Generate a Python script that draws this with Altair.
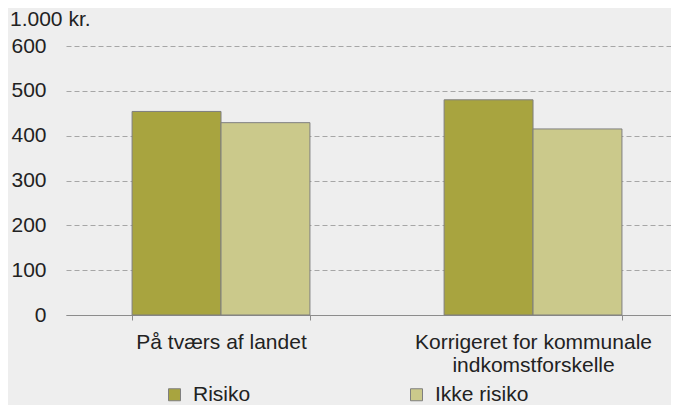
import altair as alt
import pandas as pd

categories = ["På tværs af landet", "Korrigeret for kommunale indkomstforskelle"]
series = ["Risiko", "Ikke risiko"]
risiko = [454, 480]
ikke_risiko = [429, 415]
y_ticks = [0, 100, 200, 300, 400, 500, 600]

rows = []
for i, c in enumerate(categories):
    rows.append({"kategori": c, "serie": series[0], "værdi": risiko[i]})
    rows.append({"kategori": c, "serie": series[1], "værdi": ikke_risiko[i]})
df = pd.DataFrame(rows)

FONT = "Liberation Sans"

chart = alt.Chart(df).mark_bar(stroke="#7f7f7f", strokeWidth=1).encode(
    x=alt.X("kategori:N", sort=categories, title=None,
            scale=alt.Scale(paddingInner=0.43, paddingOuter=0.1845, align=0.574),
            axis=alt.Axis(labelAngle=0, labelFontSize=21, labelFont=FONT, labelColor="#222222",
                          labelLimit=1000, labelPadding=11, labelLineHeight=23,
                          labelExpr="datum.label == 'Korrigeret for kommunale indkomstforskelle' ? ['Korrigeret for kommunale', 'indkomstforskelle'] : datum.label",
                          tickBand="extent", tickSize=5, tickColor="#8c8c8c",
                          domainColor="#8c8c8c", grid=False)),
    xOffset=alt.XOffset("serie:N", sort=series),
    y=alt.Y("værdi:Q", title=None,
            scale=alt.Scale(domain=[0, 600], nice=False),
            axis=alt.Axis(values=y_ticks, domain=False, ticks=False, labelFontSize=21,
                          labelFont=FONT, labelColor="#222222", labelPadding=20,
                          gridDash=[5, 3], gridColor="#a6a6a6", gridWidth=1)),
    color=alt.Color("serie:N", sort=series,
                    scale=alt.Scale(domain=series, range=["#a8a43f", "#cbc98b"]),
                    legend=alt.Legend(title=None, orient="none", legendX=98, legendY=338,
                                      direction="horizontal", columns=2, columnPadding=155,
                                      symbolType="square", symbolSize=144,
                                      symbolStrokeColor="#7f7f7f", symbolStrokeWidth=1,
                                      labelFontSize=21, labelFont=FONT, labelColor="#222222",
                                      labelOffset=8)),
)

title = alt.Chart(pd.DataFrame({"t": ["1.000 kr."]})).mark_text(
    align="left", baseline="middle", fontSize=21, font=FONT, color="#222222"
).encode(text="t:N", x=alt.value(-56), y=alt.value(-26))

final = alt.layer(chart, title).properties(
    width=605, height=269,
    background="#eeeeee",
    autosize=alt.AutoSizeParams(type="none"),
    padding={"left": 58, "top": 38, "right": 0, "bottom": 90},
).configure_view(stroke=None)

final.save("out.html", embed_options={"renderer": "svg", "actions": False})
